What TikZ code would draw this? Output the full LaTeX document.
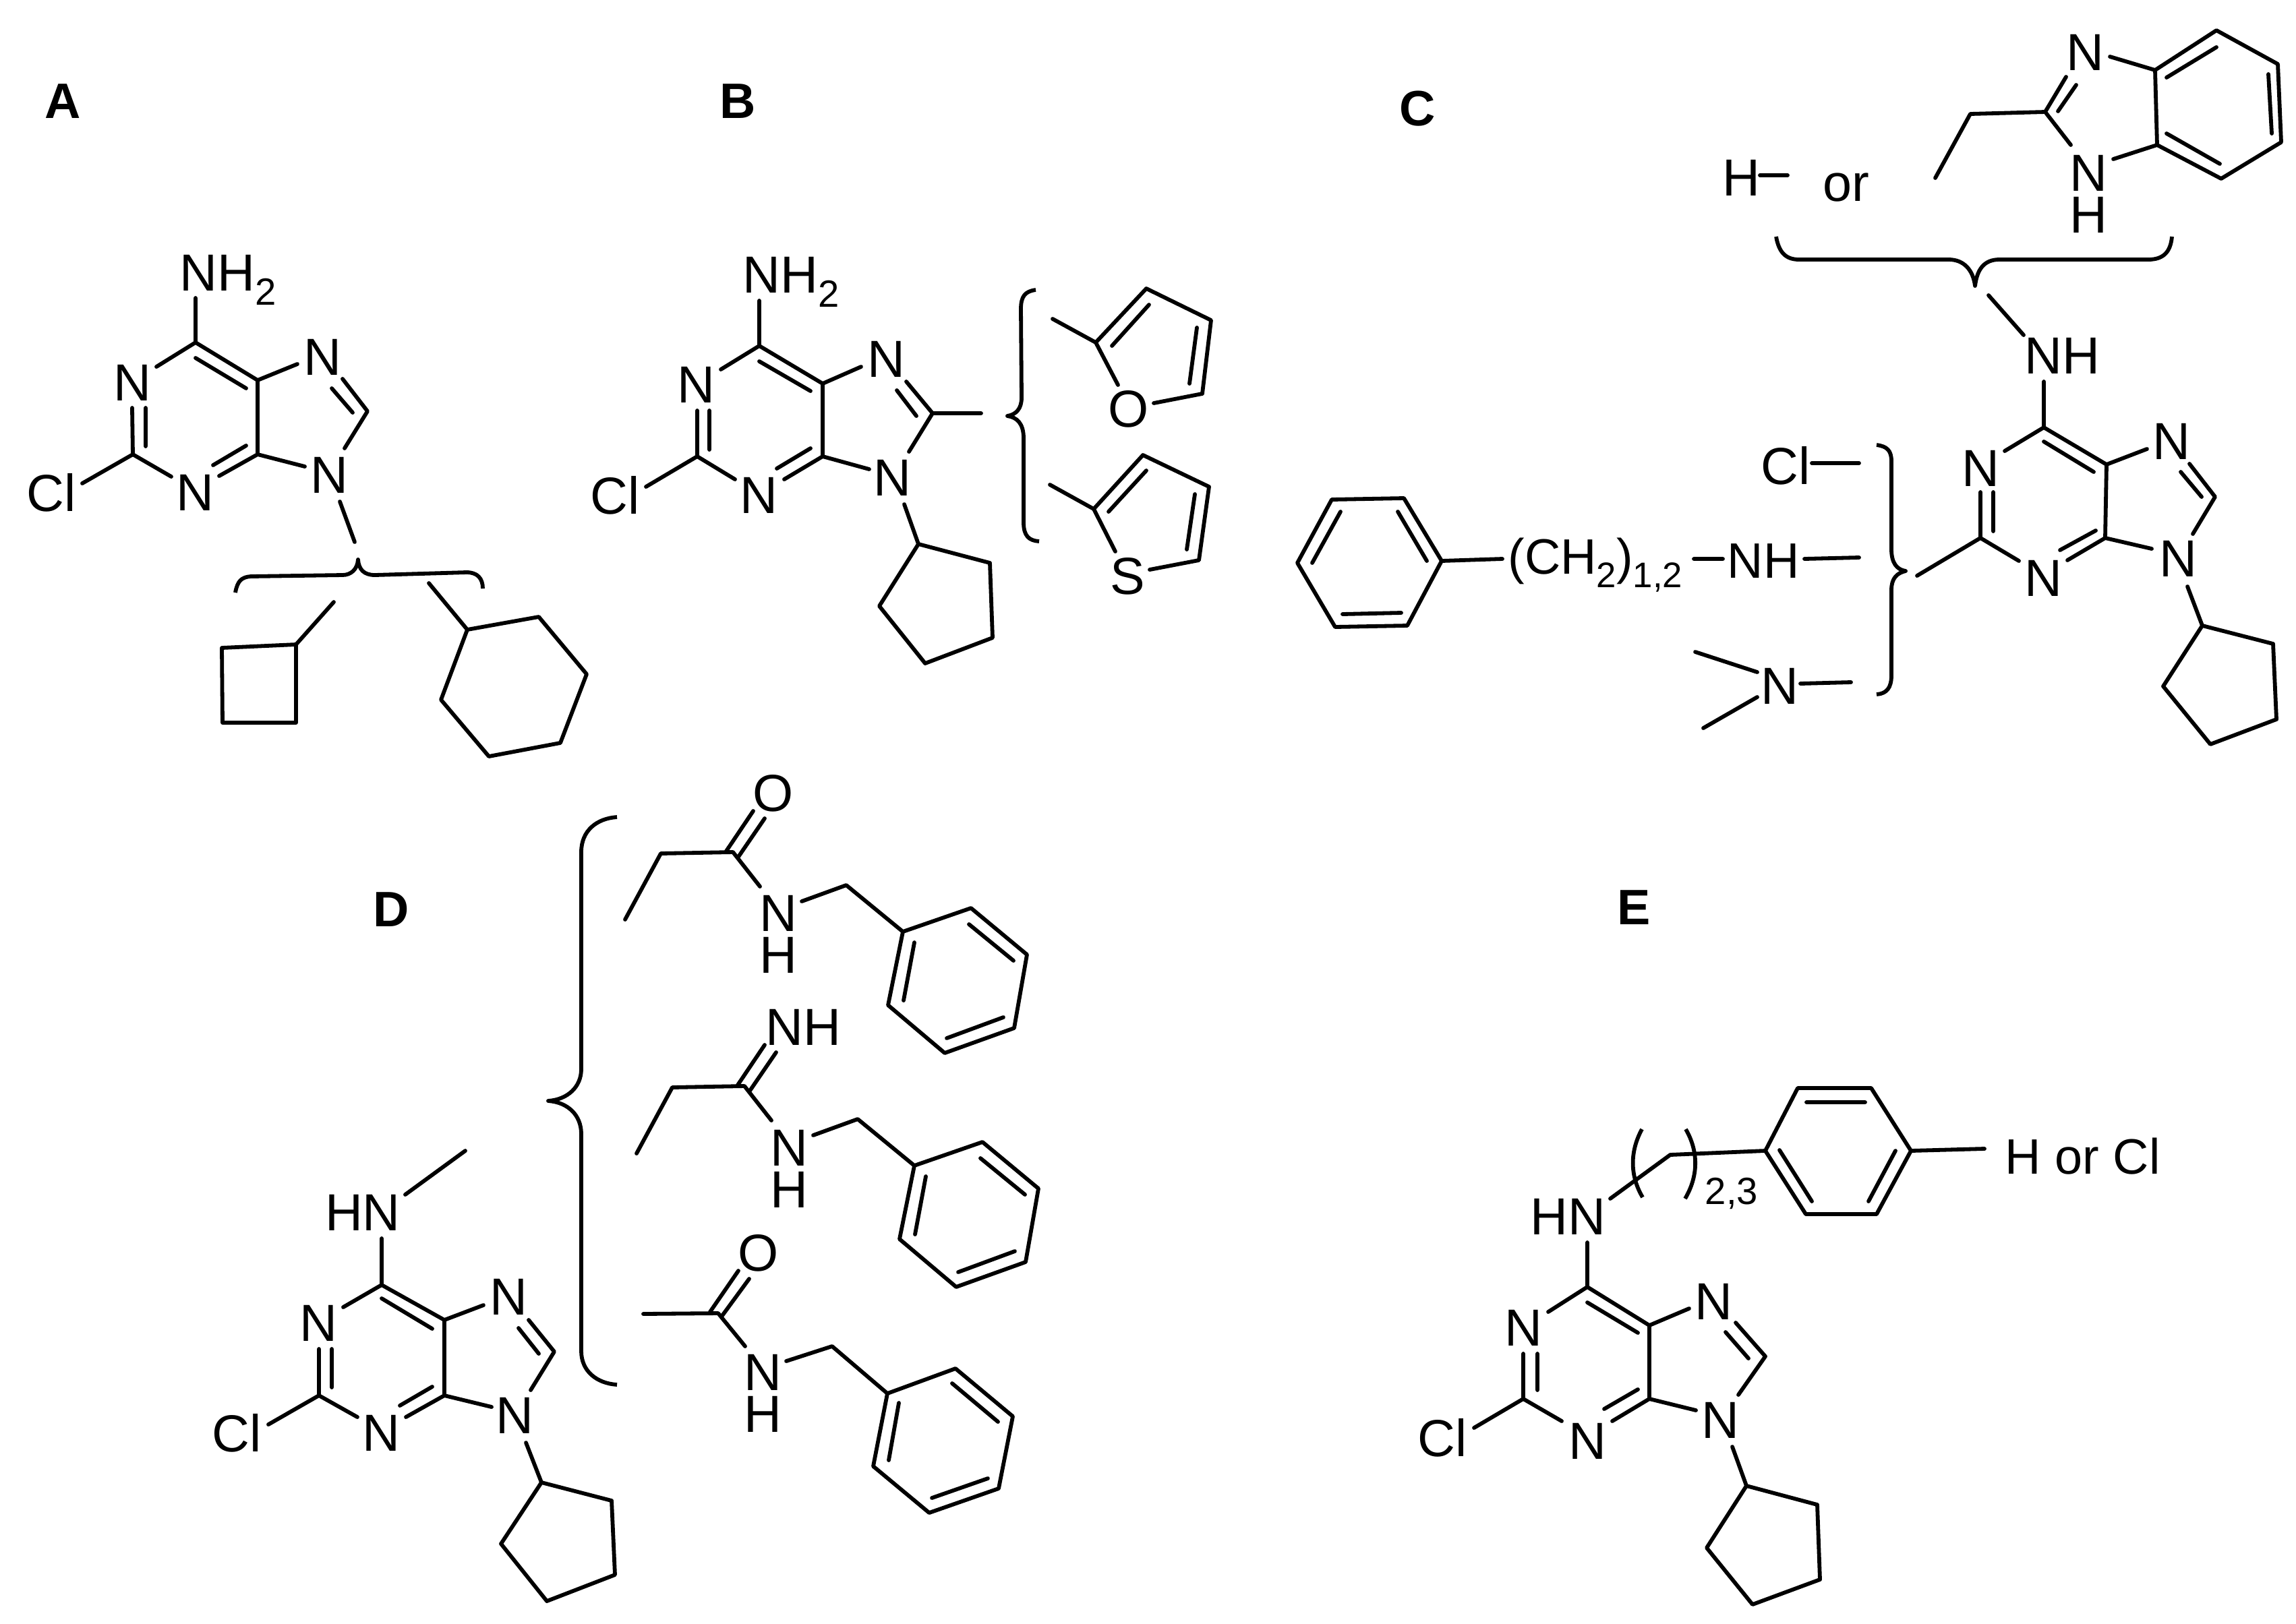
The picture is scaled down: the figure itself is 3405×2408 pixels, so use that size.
\documentclass[tikz,border=0pt]{standalone}
\usepackage{fontspec}
\setmainfont{Liberation Sans}
\newcommand{\subnum}[1]{\smash{\raisebox{-0.27em}{\fontsize{16}{16}\selectfont #1}}}
\newcommand{\subsmall}[1]{\smash{\raisebox{-0.27em}{\fontsize{15}{15}\selectfont #1}}}
\newcommand{\sidechain}{%
  \draw[bond] (927,1364)--(980,1266)--(1087,1264)--(1127,1315)
    (1095,1271)--(1134,1214) (1076,1264)--(1117,1203)
    (1189,1337)--(1255,1313)--(1339,1382)--(1440,1347)--(1523,1416)--(1504,1525)--(1401,1562)--(1317,1491)--(1339,1382)
    (1437,1371)--(1503,1425) (1488,1509)--(1404,1540) (1340,1484)--(1356,1398);}
\tikzset{
  bond/.style={line width=1.65pt,line cap=round,line join=round},
  atom/.style={inner sep=0pt,font=\fontsize{22}{24}\selectfont},
  atomsmall/.style={inner sep=0pt,font=\fontsize{21}{24}\selectfont},
  stack/.style={inner sep=0pt,align=center,font=\fontsize{22}{17.6}\selectfont},
  tag/.style={inner sep=0pt,font=\fontsize{21}{24}\selectfont\bfseries},
}
\begin{document}
\begin{tikzpicture}[x=0.01cm,y=-0.01cm]
\useasboundingbox (0,0) rectangle (3405,2408);
\fill[white] (0,0) rectangle (3405,2408);
% labels
\node[tag] (lA) at (93,150) {A};
\node[tag] (lB) at (1094,150) {B};
\node[tag] (lC) at (2102,161) {C};
\node[tag] (lD) at (580,1349) {D};
\node[tag] (lE) at (2423,1346) {E};
% ---- A
\node[atom,anchor=west] (aNH) at (266,405) {NH\subnum{2}};
\node[atom] (aN1) at (196,568) {N};
\node[atom] (aN3) at (289,731) {N};
\node[atom] (aN7) at (478,530) {N};
\node[atom] (aN9) at (488,705) {N};
\node[atom] (aCl) at (76,731) {Cl};
\draw[bond] (290,442)--(290,508)--(232,544)
  (290,508)--(382,564)--(382,674)--(325,706)
  (290,531)--(365,576) (316,690)--(365,661)
  (196,605)--(197,674)--(254,707) (216,605)--(216,662) (197,674)--(122,717)
  (382,564)--(441,540) (508,562)--(545,610)--(511,665) (492,576)--(523,612)
  (382,674)--(452,692) (504,744)--(526,804);
\draw[bond,line cap=butt] (349,879) .. controls (352,862) and (358,856) .. (372,855) -- (508,853)
  .. controls (520,853) and (530,845) .. (531,830) .. controls (532,845) and (540,853) .. (556,853)
  -- (692,849) .. controls (708,849) and (716,858) .. (716,873);
\draw[bond] (495,893)--(439,956)--(329,961)--(330,1072)--(439,1072)--(439,956);
\draw[bond] (636,865)--(693,934)--(799,915)--(870,1000)--(831,1102)--(725,1122)--(654,1038)--(693,934);
% ---- B
\node[atom,anchor=west] (bNH) at (1101,408) {NH\subnum{2}};
\node[atom] (bN1) at (1032,571) {N};
\node[atom] (bN3) at (1125,735) {N};
\node[atom] (bN7) at (1314,533) {N};
\node[atom] (bN9) at (1323,709) {N};
\node[atom] (bCl) at (912,735) {Cl};
\node[atom] (bO) at (1674,607) {O};
\node[atom] (bS) at (1672,855) {S};
\draw[bond] (1126,446)--(1126,513)--(1069,548)
  (1126,513)--(1220,569)--(1220,677)--(1163,711)
  (1126,536)--(1202,580) (1152,695)--(1202,665)
  (1034,609)--(1034,677)--(1090,711) (1052,609)--(1052,667) (1034,677)--(958,722)
  (1220,569)--(1277,544) (1344,566)--(1383,613)--(1348,670) (1330,579)--(1359,617)
  (1383,613)--(1455,613) (1220,677)--(1289,696) (1341,748)--(1362,807);
\draw[bond] (1362,807)--(1468,835)--(1472,946)--(1372,984)--(1304,899)--cycle;
\draw[bond,line cap=butt] (1536,430) .. controls (1520,432) and (1514,440) .. (1514,458) -- (1515,590)
  .. controls (1515,606) and (1507,615) .. (1494,617) .. controls (1508,619) and (1518,628) .. (1518,650)
  -- (1518,775) .. controls (1518,795) and (1526,802) .. (1541,803);
\draw[bond] (1561,473)--(1625,508)--(1700,428)--(1796,475)--(1783,584)--(1711,598)
  (1625,508)--(1658,571) (1649,513)--(1704,452) (1775,486)--(1764,569);
\draw[bond] (1557,719)--(1622,755)--(1695,675)--(1793,722)--(1778,831)--(1705,845)
  (1622,755)--(1654,818) (1644,759)--(1700,698) (1772,733)--(1760,815);
% ---- C
\node[atom] (cBN) at (3092,78) {N};
\node[stack] (cBNH) at (3097,288) {N\\H};
\node[atom] (cH) at (2582,264) {H};
\node[atom] (cOr) at (2738,278) {or};
\node[atom] (cNH) at (3058,528) {NH};
\node[atom] (cN1) at (2937,695) {N};
\node[atom] (cN3) at (3030,858) {N};
\node[atom] (cN7) at (3220,655) {N};
\node[atom] (cN9) at (3230,829) {N};
\node[atom] (cCl) at (2648,691) {Cl};
\node[atomsmall,anchor=west] (cCH) at (2236,832) {(CH\subsmall{2})\subsmall{1,2}};
\node[atomsmall,anchor=west] (cNHb) at (2561,832) {NH};
\node[atom] (cNm) at (2639,1018) {N};
\draw[bond] (2870,264)--(2922,169)--(3033,166)--(3064,114) (3052,165)--(3079,126)
  (3033,166)--(3071,215) (3129,84)--(3196,104)--(3199,215)--(3134,236)
  (3196,104)--(3287,45)--(3378,95)--(3383,211)--(3294,265)--(3199,215)
  (3213,115)--(3287,70) (3364,110)--(3369,198) (3213,198)--(3292,243);
\draw[bond] (2610,260)--(2651,260);
\draw[bond,line cap=butt] (2634,351) .. controls (2638,374) and (2648,385) .. (2668,385) -- (2890,385)
  .. controls (2912,385) and (2926,400) .. (2929,424) .. controls (2932,400) and (2942,385) .. (2965,385)
  -- (3186,385) .. controls (3208,385) and (3219,374) .. (3221,351);
\draw[bond] (2949,438)--(3001,497) (3031,566)--(3031,634)--(2973,669)
  (3031,634)--(3124,689)--(3122,798)--(3066,831)
  (3031,655)--(3105,700) (3055,816)--(3108,787)
  (2937,730)--(2937,798)--(2994,832) (2956,730)--(2956,788) (2937,798)--(2843,854)
  (3124,689)--(3184,666) (3247,688)--(3285,737)--(3252,792) (3234,700)--(3265,737)
  (3122,798)--(3191,814) (3244,870)--(3266,928);
\draw[bond] (3266,928)--(3371,955)--(3376,1067)--(3278,1104)--(3208,1018)--cycle;
\draw[bond,line cap=butt] (2783,660) .. controls (2798,662) and (2805,668) .. (2805,684) -- (2805,815)
  .. controls (2805,835) and (2813,845) .. (2826,847) .. controls (2813,850) and (2805,858) .. (2805,875)
  -- (2805,1002) .. controls (2805,1020) and (2798,1029) .. (2783,1030);
\draw[bond] (2687,687)--(2757,687);
\draw[bond] (2138,832)--(2082,739)--(1975,741)--(1924,835)--(1980,930)--(2087,928)--cycle
  (2073,759)--(2116,832) (2078,909)--(1991,911) (1946,835)--(1988,759)
  (2138,832)--(2228,829) (2512,829)--(2555,829) (2676,829)--(2757,827)
  (2514,967)--(2606,997) (2526,1080)--(2606,1034) (2670,1014)--(2745,1012);
% ---- D
\node[atom] (dHN) at (538,1799) {HN};
\node[atom] (dN1) at (472,1963) {N};
\node[atom] (dN3) at (565,2126) {N};
\node[atom] (dN7) at (754,1924) {N};
\node[atom] (dN9) at (763,2100) {N};
\node[atom] (dCl) at (351,2126) {Cl};
\draw[bond] (601,1772)--(690,1707) (566,1837)--(566,1906)--(509,1939)
  (566,1906)--(659,1958)--(659,2070)--(602,2102)
  (566,1926)--(641,1971) (593,2085)--(641,2057)
  (473,2001)--(473,2070)--(530,2102) (492,2001)--(492,2058) (473,2070)--(398,2113)
  (659,1958)--(717,1936) (784,1958)--(822,2005)--(787,2062) (769,1970)--(799,2008)
  (659,2070)--(729,2087) (780,2140)--(803,2199);
\draw[bond] (803,2199)--(907,2226)--(912,2336)--(811,2375)--(743,2290)--cycle;
\draw[bond,line cap=butt] (915,1212) .. controls (885,1214) and (862,1232) .. (862,1264) -- (862,1586)
  .. controls (862,1612) and (842,1631) .. (813,1633) .. controls (842,1635) and (862,1654) .. (862,1682)
  -- (862,2004) .. controls (862,2034) and (885,2052) .. (915,2054);
\node[atom] (s1O) at (1147,1177) {O};
\node[stack] (s1NH) at (1154,1386) {N\\H};
\sidechain
\node[atom] (s2NH) at (1191,1524) {NH};
\node[stack] (s2NHb) at (1170,1734) {N\\H};
\begin{scope}[shift={(17,347)}]\sidechain\end{scope}
\node[atom] (s3O) at (1125,1859) {O};
\node[stack] (s3NH) at (1131,2067) {N\\H};
\draw[bond] (954,1949)--(1065,1948)--(1105,1997) (1070,1953)--(1111,1897) (1053,1946)--(1095,1885)
  (1166,2019)--(1234,1997)--(1316,2067)--(1417,2030)--(1502,2101)--(1481,2208)--(1378,2244)--(1295,2175)--(1316,2067)
  (1412,2052)--(1480,2109) (1465,2193)--(1382,2222) (1318,2166)--(1333,2081);
% ---- E
\node[atom] (eHN) at (2325,1805) {HN};
\node[atom] (eN1) at (2259,1970) {N};
\node[atom] (eN3) at (2354,2138) {N};
\node[atom] (eN7) at (2541,1931) {N};
\node[atom] (eN9) at (2551,2107) {N};
\node[atom] (eCl) at (2139,2133) {Cl};
\node[atomsmall,anchor=west] (eX) at (2973,1715) {H or Cl};
\node[inner sep=0pt,anchor=west,font=\fontsize{16}{16}\selectfont] (eN) at (2528,1770) {2,3};
\draw[bond] (2354,1843)--(2354,1909)--(2296,1946)
  (2354,1909)--(2446,1966)--(2446,2075)--(2391,2108)
  (2354,1932)--(2429,1977) (2379,2090)--(2429,2061)
  (2259,2008)--(2259,2075)--(2316,2108) (2280,2008)--(2280,2062) (2259,2075)--(2186,2118)
  (2446,1966)--(2505,1941) (2574,1962)--(2618,2012)--(2578,2069) (2559,1976)--(2593,2015)
  (2446,2075)--(2515,2092) (2569,2146)--(2590,2204);
\draw[bond] (2590,2204)--(2695,2232)--(2699,2343)--(2599,2380)--(2531,2296)--cycle;
\draw[bond] (2388,1778)--(2477,1713)--(2618,1707)--(2666,1614)--(2775,1614)--(2834,1707)--(2783,1801)--(2678,1801)--(2618,1707)
  (2679,1635)--(2766,1635) (2811,1707)--(2771,1782) (2639,1706)--(2687,1782)
  (2834,1707)--(2943,1704);
\draw[bond,line cap=butt] (2435,1675) .. controls (2417,1708) and (2417,1744) .. (2436,1776);
\draw[bond,line cap=butt] (2500,1675) .. controls (2519,1708) and (2519,1744) .. (2499,1778);
\end{tikzpicture}
\end{document}
